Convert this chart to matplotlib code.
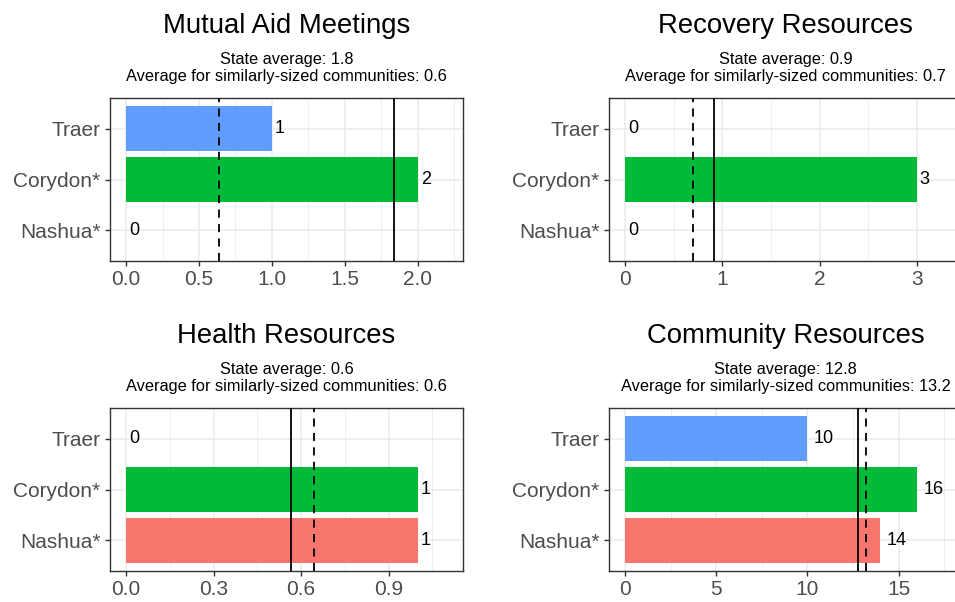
import matplotlib
matplotlib.use("Agg")
import matplotlib.pyplot as plt
from matplotlib.ticker import MultipleLocator

plt.rcParams['font.family'] = ['Liberation Sans', 'DejaVu Sans']

# data
communities = ["Traer", "Corydon*", "Nashua*"]
bar_colors = ["#619CFF", "#00BA38", "#F8766D"]

titles = ["Mutual Aid Meetings", "Recovery Resources",
          "Health Resources", "Community Resources"]
mutual_aid = [1, 2, 0]
recovery = [0, 3, 0]
health = [0, 1, 1]
community = [10, 16, 14]
state_avg = [1.84, 0.91, 0.565, 12.79]
similar_avg = [0.635, 0.696, 0.645, 13.24]
major_step = [0.5, 1, 0.3, 5]

series = [mutual_aid, recovery, health, community]

W, H = 955, 602
fig = plt.figure(figsize=(W / 100, H / 100), dpi=100)

# panel boxes in pixels: left, top, right, bottom
boxes = [(110, 98, 463, 261), (609, 98, 962, 261),
         (110, 408, 463, 571), (609, 408, 962, 571)]
title_base = [33, 33, 343, 343]

ypos = [2, 1, 0]  # Traer on top

for i, vals in enumerate(series):
    l, t, r, b = boxes[i]
    ax = fig.add_axes([l / W, 1 - b / H, (r - l) / W, (b - t) / H])
    ax.set_axisbelow(True)

    top = max(vals) * 1.1
    ax.set_xlim(-0.05 * top, 1.05 * top)
    ax.set_ylim(-0.6, 2.6)

    ax.barh(ypos, vals, height=0.9, color=bar_colors, zorder=2)
    for y, v in zip(ypos, vals):
        s = str(v)
        # roughly ggplot's hjust = -0.5
        ax.annotate(s, (v, y), xytext=(2.7 * len(s) - 0.6, 0),
                    textcoords="offset points", ha="left", va="center",
                    fontsize=13, color="black", zorder=4)

    ax.axvline(state_avg[i], color="black", lw=1.3, zorder=3)
    ax.axvline(similar_avg[i], color="black", lw=1.3,
               linestyle=(0, (4.5, 3.5)), zorder=3)

    ax.xaxis.set_major_locator(MultipleLocator(major_step[i]))
    ax.xaxis.set_minor_locator(MultipleLocator(major_step[i] / 2))
    if major_step[i] < 1:
        ax.xaxis.set_major_formatter(lambda x, p: f"{x:.1f}")
    ax.set_yticks(ypos)
    ax.set_yticklabels(communities)

    ax.grid(which="major", color="#EBEBEB", lw=1.1)
    ax.grid(which="minor", axis="x", color="#EBEBEB", lw=0.6)
    ax.tick_params(which="major", labelsize=15, labelcolor="#4D4D4D",
                   color="#333333", length=3.8, width=1.0, pad=3)
    ax.tick_params(which="minor", length=0)
    for sp in ax.spines.values():
        sp.set_color("#333333")
        sp.set_linewidth(1.0)

    cx = (l + r) / 2 / W
    fig.text(cx, 1 - title_base[i] / H, titles[i], ha="center",
             va="baseline", fontsize=19.8, color="black")
    fig.text(cx, 1 - (title_base[i] + 31) / H,
             f"State average: {state_avg[i]:.1f}", ha="center",
             va="baseline", fontsize=11.8, color="black")
    fig.text(cx, 1 - (title_base[i] + 48.5) / H,
             f"Average for similarly-sized communities: {similar_avg[i]:.1f}",
             ha="center", va="baseline", fontsize=11.8, color="black")

fig.savefig("out.png", dpi=100, facecolor="white")
